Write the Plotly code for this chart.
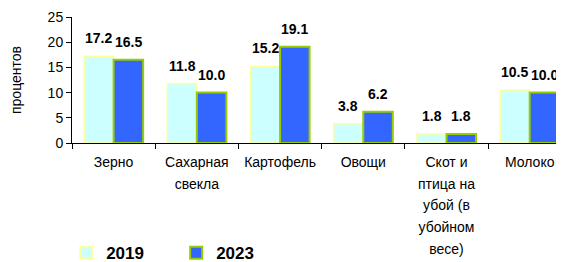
import plotly.graph_objects as go

categories = ["Зерно", "Сахарная свекла", "Картофель", "Овощи",
              "Скот и птица на убой (в убойном весе)", "Молоко"]
tick_labels = ["Зерно", "Сахарная<br>свекла", "Картофель", "Овощи",
               "Скот и<br>птица на<br>убой (в<br>убойном<br>весе)", "Молоко"]
values_2019 = [17.2, 11.8, 15.2, 3.8, 1.8, 10.5]
values_2023 = [16.5, 10.0, 19.1, 6.2, 1.8, 10.0]
y_ticks = [0, 5, 10, 15, 20, 25]

FONT = "Liberation Sans, Arial, sans-serif"

fig = go.Figure()
fig.add_trace(go.Bar(
    name="2019", x=categories, y=values_2019,
    marker=dict(color="#CCFFFF", line=dict(color="#FFFF99", width=1.5)),
))
fig.add_trace(go.Bar(
    name="2023", x=categories, y=values_2023,
    marker=dict(color="#3366FF", line=dict(color="#99CC00", width=2)),
))

# value labels
X_END = 5.34
cat_px = (550 - 64) / (X_END + 0.5)
bar_px = cat_px * (1 - 0.29) / 2
for vals, sh in ((values_2019, -bar_px / 2), (values_2023, bar_px / 2)):
    for c, v in zip(categories, vals):
        fig.add_annotation(x=c, y=v, text=f"<b>{v:.1f}</b>", showarrow=False,
                           xshift=sh, yanchor="bottom", yshift=8,
                           font=dict(family=FONT, size=14, color="#000000"))

def wrap(t):
    return "<br>".join(f"<span style='font-size:14px'>{p}</span>" for p in t.split("<br>"))

fig.update_layout(
    width=556, height=254,
    margin=dict(l=64, r=6, t=9, b=119, autoexpand=False),
    paper_bgcolor="white", plot_bgcolor="white",
    barmode="group", bargap=0.29, bargroupgap=0,
    font=dict(family=FONT, size=14, color="#000000"),
    showlegend=True,
    legend=dict(orientation="h", x=-0.012, xanchor="left", y=-0.875, yanchor="middle",
                font=dict(family=FONT, size=17, color="#000000", weight="bold"),
                entrywidth=65, entrywidthmode="pixels", bgcolor="rgba(0,0,0,0)"),
    xaxis=dict(range=[-0.5, X_END], showline=True, linecolor="#000000", linewidth=1,
               ticks="outside", ticklen=5, tickcolor="#000000", tickson="boundaries",
               tickvals=categories, ticktext=[wrap(t) for t in tick_labels],
               tickfont=dict(family=FONT, size=16.7, color="#000000"),
               ticklabelstandoff=3, automargin=False,
               showgrid=False, zeroline=False, fixedrange=True),
    yaxis=dict(range=[0, 25], tickvals=y_ticks, showline=True, linecolor="#000000",
               linewidth=1, ticks="outside", ticklen=5, tickcolor="#000000",
               tickfont=dict(family=FONT, size=14, color="#000000"),
               showgrid=False, zeroline=False, automargin=False,
               title=dict(text="процентов", standoff=22,
                          font=dict(family=FONT, size=14, color="#000000"))),
)

fig.write_html("out.html")
